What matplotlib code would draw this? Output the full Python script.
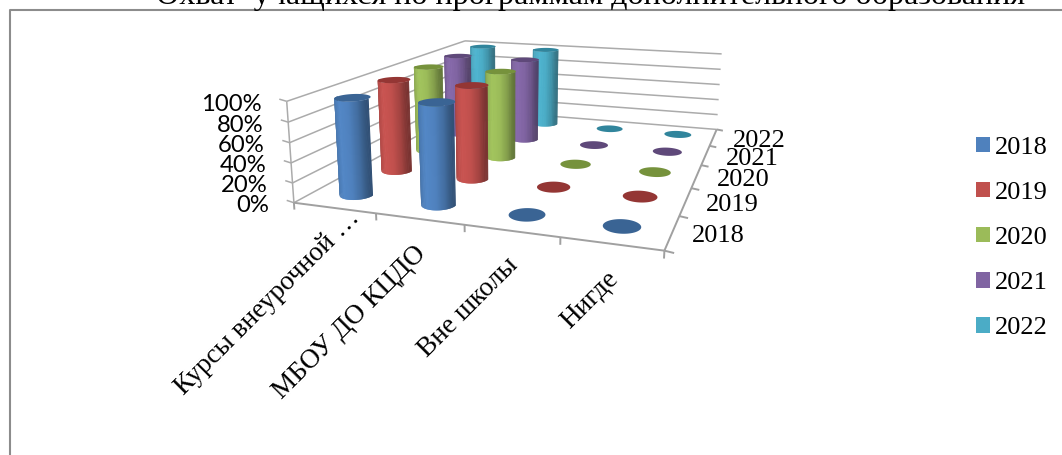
import numpy as np
import matplotlib
matplotlib.use('Agg')
import matplotlib.pyplot as plt
from matplotlib.patches import Patch
from mpl_toolkits.mplot3d.art3d import Poly3DCollection, Line3DCollection

categories = ['Курсы внеурочной …', 'МБОУ ДО КЦДО', 'Вне школы', 'Нигде']
series_names = ['2018', '2019', '2020', '2021', '2022']
values_2018 = [98, 100, 0, 0]
values_2019 = [100, 100, 0, 0]
values_2020 = [100, 100, 0, 0]
values_2021 = [100, 100, 0, 0]
values_2022 = [100, 100, 0, 0]
all_values = [values_2018, values_2019, values_2020, values_2021, values_2022]
z_ticks = [0, 20, 40, 60, 80, 100]
title = 'Охват  учащихся по программам дополнительного образования'

body_colors = ['#4F81BD', '#C0504D', '#9BBB59', '#8064A2', '#4BACC6']
cap_colors = ['#3A6494', '#943634', '#76923C', '#5F497A', '#31859C']
W, H = 1062, 455
GRID = '#ababab'
SERIF = 'Liberation Serif'

# camera calibration: box corners (category, series, percent) -> image pixels
world = np.array([[0, 0, 0], [4, 0, 0], [4, 5, 0], [0, 5, 0], [0, 0, 100], [4, 5, 100], [0, 5, 100]], float)
image = np.array([[294, 203], [664.3, 250.7], [716.7, 129.3], [466, 109.3], [286.7, 101], [721.7, 54], [465, 41]], float)
A = []
b = []
for (X, Y, Z), (u, v) in zip(world, image):
    A.append([X, Y, Z, 1, 0, 0, 0, 0, -u * X, -u * Y, -u * Z])
    A.append([0, 0, 0, 0, X, Y, Z, 1, -v * X, -v * Y, -v * Z])
    b += [u, v]
p = np.linalg.lstsq(np.array(A), np.array(b), rcond=None)[0]
P = np.array([p[:4], p[4:8], [*p[8:], 1.0]])


def to_px(x, y, z):
    h = P @ np.array([x, y, z, 1.0])
    return h[0] / h[2], h[1] / h[2]


fig = plt.figure(figsize=(W / 100, H / 100), dpi=100, facecolor='white')
ax = fig.add_axes([0, 0, 1, 1], projection='3d', computed_zorder=False)
ax.set_axis_off()
ax.apply_aspect = lambda position=None: None


def camera():
    to_data = ax.transData.inverted().get_affine().get_matrix()
    flip = np.array([[1, 0, 0], [0, -1, H], [0, 0, 1.0]])
    m = to_data @ flip @ P
    return np.array([m[0], m[1], [0, 1, 0, 0], m[2]])


ax.get_proj = camera

thin, thick = [], []
for z in z_ticks:
    thin.append([(0, 5, z), (4, 5, z)])
    thin.append([(0, 0, z), (0, 5, z)])
    thin.append([(-0.09, 0, z + 1.5), (0, 0, z)])
thin.append([(0, 0, 0), (0, 0, 100)])
thick.append([(0, 0, 0), (4, 0, 0)])
thick.append([(4, 0, 0), (4, 5, 0)])
for i in range(5):
    thick.append([(i, 0, 0), (i, 0, -7)])
for j in range(6):
    thick.append([(4, j, 0), (4.09, j, -1)])
ax.add_collection3d(Line3DCollection(thin, colors=GRID, linewidths=1.1, zorder=1))
ax.add_collection3d(Line3DCollection(thick, colors='#a0a0a0', linewidths=1.4, zorder=1))

RX, RY = 0.19, 0.21
TH = np.radians(np.linspace(0, 360, 121))
FRONT = np.radians(np.linspace(176, 364, 61))


def shade(color, t):
    c = np.array(matplotlib.colors.to_rgb(color))
    # t is -1 (left edge) .. 1 (right edge)
    k = np.interp(t, [-1, -0.7, -0.2, 0.3, 0.7, 1], [0.78, 0.95, 1.05, 1.0, 0.85, 0.62])
    return tuple(np.clip(c * k, 0, 1))


for j in range(4, -1, -1):
    for i in range(4):
        v = all_values[j][i]
        cx, cy = i + 0.5, j + 0.5
        zo = 10 + (4 - j) * 10 + i
        if v > 0:
            fx, fy = cx + RX * np.cos(FRONT), cy + RY * np.sin(FRONT)
            quads, cols = [], []
            for k in range(len(FRONT) - 2):
                quads.append([(fx[k], fy[k], 0), (fx[k + 2], fy[k + 2], 0), (fx[k + 2], fy[k + 2], v), (fx[k], fy[k], v)])
                cols.append(shade(body_colors[j], np.cos(FRONT[k + 1])))
            ax.add_collection3d(Poly3DCollection(quads, facecolors=cols, edgecolors='none', linewidths=0, zorder=zo))
        ex, ey = cx + RX * np.cos(TH), cy + RY * np.sin(TH)
        ax.add_collection3d(Poly3DCollection([list(zip(ex, ey, [v] * len(TH)))], facecolors=cap_colors[j],
                                             edgecolors='none', linewidths=0, zorder=zo + 0.5))


def label(px, py, s, **kw):
    fig.text(px / W, 1 - py / H, s, **kw)


for z, tick in zip(z_ticks, z_ticks):
    px, py = to_px(0, 0, z)
    label(px - 25, py + 3, f'{tick}%', family='Lato', fontsize=17.2, ha='right', va='center', color='black')
for i, name in enumerate(categories):
    px, py = to_px(i + 0.5, 0, 0)
    nudge_x, nudge_y = (19, -24) if i == 0 else (0, 0)
    label(px - 6 + nudge_x, py + 22 + nudge_y, name, family=SERIF, fontsize=19.6, rotation=45, ha='right', va='top',
          rotation_mode='anchor', color='black')
for j, name in enumerate(series_names):
    px, py = to_px(4, j + 0.5, 0)
    label(px + 20, py + 4, name, family=SERIF, fontsize=19, ha='left', va='center', color='black')

label(591, 4, title, family=SERIF, fontsize=23.1, ha='center', va='baseline', color='black')

handles = [Patch(facecolor=c, edgecolor='none') for c in body_colors]
fig.legend(handles, series_names, loc='center left', bbox_to_anchor=(976 / W, 1 - 238 / H), frameon=False,
           prop={'family': SERIF, 'size': 19}, handlelength=0.53, handleheight=0.53, handletextpad=0.19,
           labelspacing=0.87, borderpad=0, borderaxespad=0)

# chart frame
fig.add_artist(plt.Line2D([9.8 / W, 9.8 / W, 1], [0, 1 - 10 / H, 1 - 10 / H], color='#8c8c8c', lw=1.5))

fig.savefig('out.png', dpi=100)
